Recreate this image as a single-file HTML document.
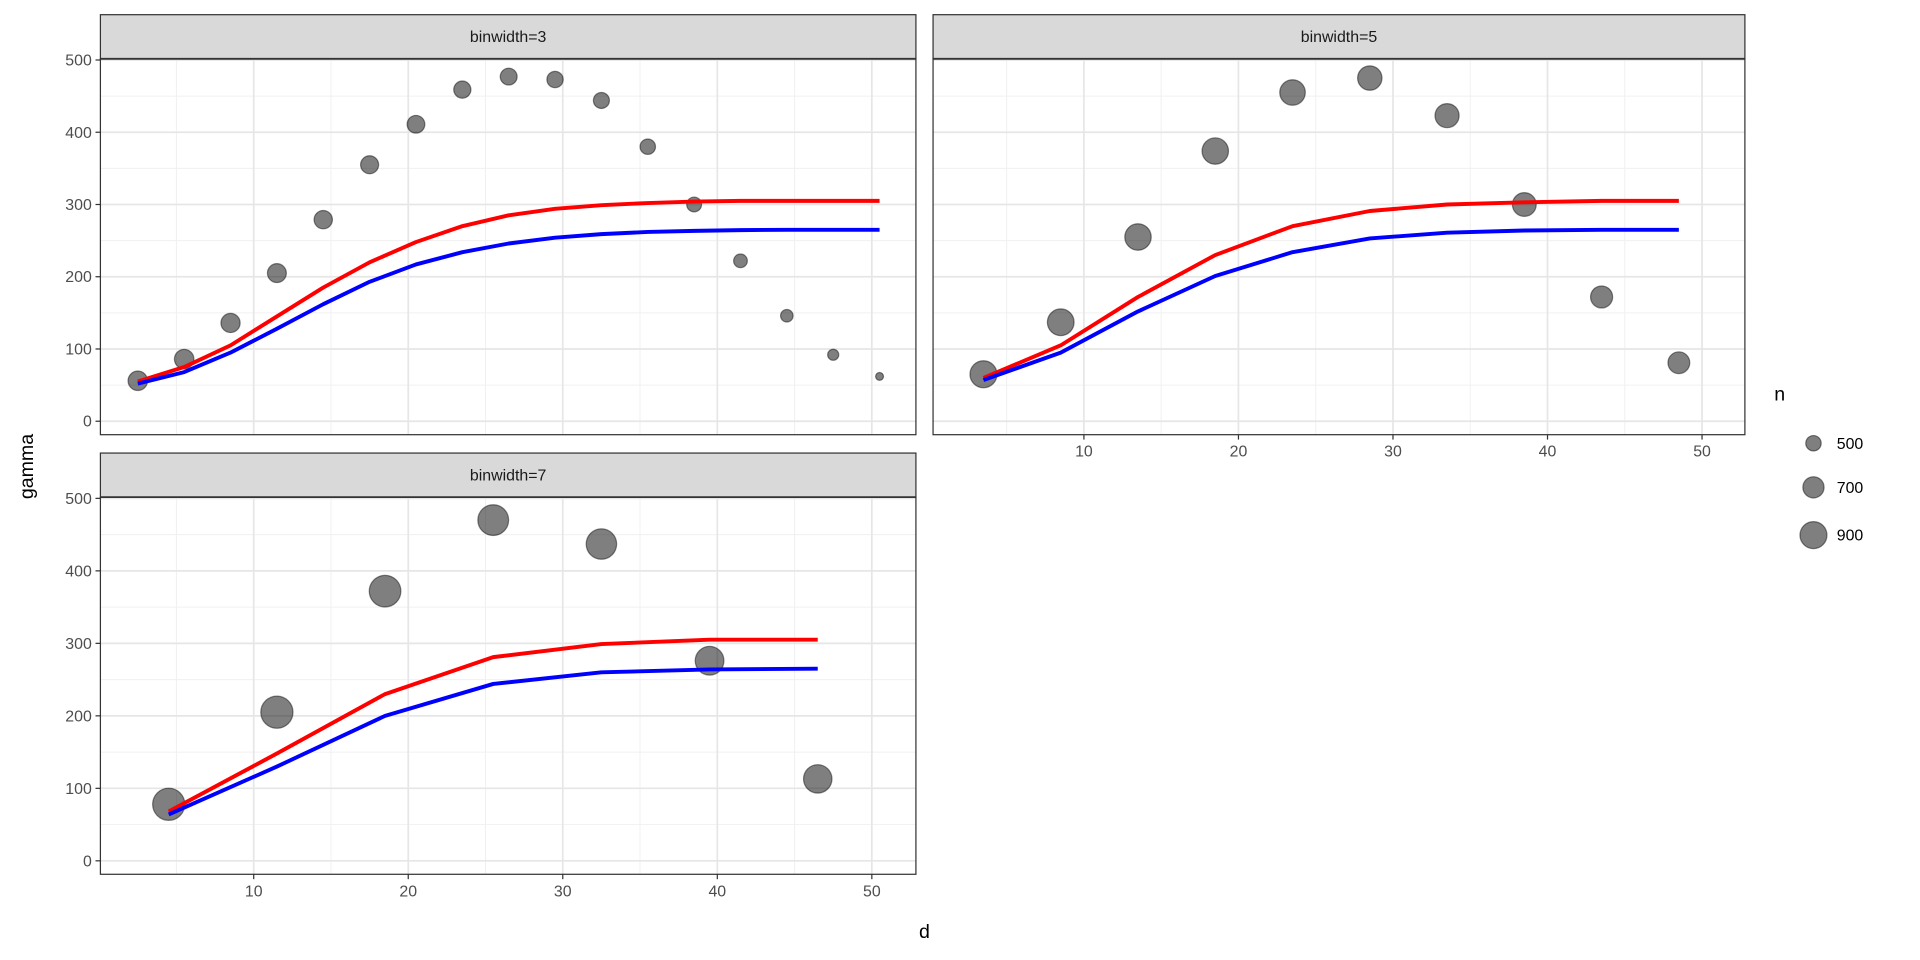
<!DOCTYPE html>
<html><head><meta charset="utf-8">
<style>
html,body{margin:0;padding:0;background:#fff;}
svg{display:block;font-family:"Liberation Sans",Arial,sans-serif;}
</style></head>
<body>
<svg id="chart" width="1920" height="960" viewBox="0 0 1568 784" xmlns="http://www.w3.org/2000/svg"></svg>
<script>
// ---- data ----
const facetLabels = ["binwidth=3","binwidth=5","binwidth=7"];
const d3x = [2.5,5.5,8.5,11.5,14.5,17.5,20.5,23.5,26.5,29.5,32.5,35.5,38.5,41.5,44.5,47.5,50.5];
const g3 = [56,86,136,205,279,355,411,459,477,473,444,380,300,222,146,92,62];
const n3 = [640,640,630,620,600,590,580,560,550,530,520,500,480,440,400,350,240];
const red3 = [55,75,105,145,185,220,248,270,285,294,299,302,304,305,305,305,305];
const blue3 = [52,68,95,128,162,193,217,234,246,254,259,262,263.5,264.5,265,265,265];
const d5x = [3.5,8.5,13.5,18.5,23.5,28.5,33.5,38.5,43.5,48.5];
const g5 = [65,137,255,374,455,475,423,300,172,81];
const n5 = [900,890,880,880,850,810,800,790,730,720];
const red5 = [60,105,172,230,270,291,300,303,305,305];
const blue5 = [57,95,152,201,234,253,261,264,265,265];
const d7x = [4.5,11.5,18.5,25.5,32.5,39.5,46.5];
const g7 = [78,205,372,470,437,276,113];
const n7 = [1080,1080,1060,1030,1020,960,950];
const red7 = [68,148,230,281,299,305,305];
const blue7 = [64,130,200,244,260,264,265];
const xTicks = [10,20,30,40,50];
const yTicks = [0,100,200,300,400,500];
const legendN = [500,700,900];

// ---- drawing ----
const svg = document.getElementById('chart');
const NS = 'http://www.w3.org/2000/svg';
function mk(tag, attrs, parent){
  const e = document.createElementNS(NS, tag);
  for (const k in attrs) e.setAttribute(k, attrs[k]);
  (parent||svg).appendChild(e);
  return e;
}
function rOf(n){ return 6.3 + (n-500)*0.0118; }

const panels = [
  {x0:82, x1:748, st:12, top:48, bot:355, y500:49, y0:344, ox:81, label:facetLabels[0], dx:d3x, g:g3, n:n3, red:red3, blue:blue3, yAxis:true, xAxis:false},
  {x0:762, x1:1425, st:12, top:48, bot:355, y500:49, y0:344, ox:759, label:facetLabels[1], dx:d5x, g:g5, n:n5, red:red5, blue:blue5, yAxis:false, xAxis:true},
  {x0:82, x1:748, st:370, top:406, bot:714, y500:407, y0:703, ox:81, label:facetLabels[2], dx:d7x, g:g7, n:n7, red:red7, blue:blue7, yAxis:true, xAxis:true}
];
const XS = 12.62;

panels.forEach((p, pi) => {
  const X = d => p.ox + d*XS;
  const Y = v => p.y0 - v*(p.y0-p.y500)/500;
  const grp = mk('g', {});
  
  
  mk('rect', {x:p.x0, y:p.top, width:p.x1-p.x0, height:p.bot-p.top, fill:'#fff'}, grp);
  // minor grid
  [5,15,25,35,45].forEach(d => mk('line',{x1:X(d),x2:X(d),y1:p.top,y2:p.bot,stroke:'#f0f0f0','stroke-width':0.8},grp));
  [50,150,250,350,450].forEach(v => mk('line',{x1:p.x0,x2:p.x1,y1:Y(v),y2:Y(v),stroke:'#f0f0f0','stroke-width':0.8},grp));
  xTicks.forEach(d => mk('line',{x1:X(d),x2:X(d),y1:p.top,y2:p.bot,stroke:'#e6e6e6','stroke-width':1.4},grp));
  yTicks.forEach(v => mk('line',{x1:p.x0,x2:p.x1,y1:Y(v),y2:Y(v),stroke:'#e6e6e6','stroke-width':1.4},grp));
  // points
  p.dx.forEach((d,i) => {
    const c = mk('circle',{cx:X(d),cy:Y(p.g[i]),r:rOf(p.n[i]),fill:'rgba(0,0,0,0.5)',stroke:'rgba(0,0,0,0.45)','stroke-width':1},grp);
    
    
  });
  // lines
  const redPts = p.dx.map((d,i)=>X(d)+','+Y(p.red[i])).join(' ');
  const bluePts = p.dx.map((d,i)=>X(d)+','+Y(p.blue[i])).join(' ');
  const rl = mk('polyline',{points:redPts,fill:'none',stroke:'#ff0000','stroke-width':3.2,'stroke-linejoin':'round'},grp);
  
  
  const bl = mk('polyline',{points:bluePts,fill:'none',stroke:'#0000ff','stroke-width':3.2,'stroke-linejoin':'round'},grp);
  
  
  // border
  mk('rect',{x:p.x0,y:p.top,width:p.x1-p.x0,height:p.bot-p.top,fill:'none',stroke:'#333','stroke-width':1},grp);
  // strip
  const strip = mk('rect',{x:p.x0,y:p.st,width:p.x1-p.x0,height:p.top-p.st,fill:'#d9d9d9',stroke:'#333','stroke-width':1},grp);
  
  
  mk('line',{x1:p.x0,x2:p.x1,y1:p.top,y2:p.top,stroke:'#333','stroke-width':1.5},grp);
  const st = mk('text',{x:(p.x0+p.x1)/2,y:(p.st+p.top)/2+4.5,'text-anchor':'middle','font-size':13,fill:'#1a1a1a'},grp);
  st.textContent = p.label;
  
  
  if (p.yAxis){
    yTicks.forEach(v => {
      mk('line',{x1:p.x0-4,x2:p.x0,y1:Y(v),y2:Y(v),stroke:'#333','stroke-width':1},grp);
      const t = mk('text',{x:p.x0-7,y:Y(v)+4.5,'text-anchor':'end','font-size':13,fill:'#4d4d4d'},grp);
      t.textContent = v;
      
      
    });
  }
  if (p.xAxis){
    xTicks.forEach(d => {
      mk('line',{x1:X(d),x2:X(d),y1:p.bot,y2:p.bot+4,stroke:'#333','stroke-width':1},grp);
      const t = mk('text',{x:X(d),y:p.bot+18,'text-anchor':'middle','font-size':13,fill:'#4d4d4d'},grp);
      t.textContent = d;
      
      
    });
  }
});

// axis titles
const xt = mk('text',{x:755,y:766,'text-anchor':'middle','font-size':16,fill:'#000'});
xt.textContent = 'd';


const yt = mk('text',{x:0,y:0,'text-anchor':'middle','font-size':16,fill:'#000',transform:'translate(27,381) rotate(-90)'});
yt.textContent = 'gamma';



// legend
const lg = mk('g',{});


const lt = mk('text',{x:1449,y:327,'font-size':16,fill:'#000'},lg);
lt.textContent = 'n';


const legY = [362,398,437];
legendN.forEach((n,i) => {
  const c = mk('circle',{cx:1481,cy:legY[i],r:rOf(n),fill:'rgba(0,0,0,0.5)',stroke:'rgba(0,0,0,0.45)','stroke-width':1},lg);
  
  
  const t = mk('text',{x:1500,y:legY[i]+4.5,'font-size':13,fill:'#000'},lg);
  t.textContent = n;
  
  
});
</script>
</body></html>
